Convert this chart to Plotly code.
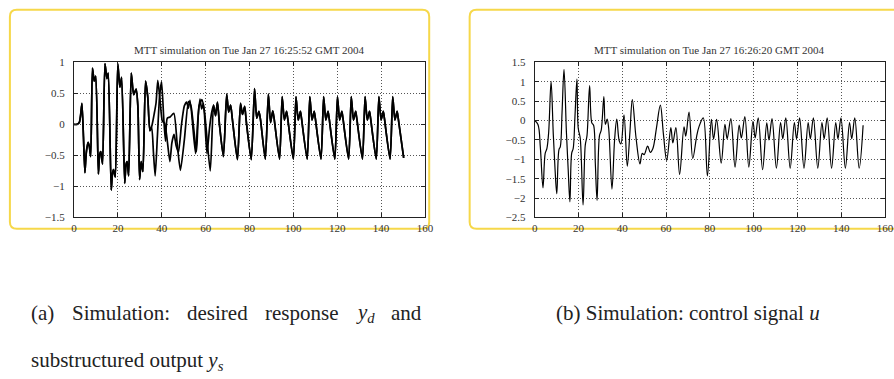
import plotly.graph_objects as go

W, H = 894, 379

# ---------------- data: panel (a) ----------------
# common start of y_d and y_s
t_start = [0, 1.3, 2.4, 3.0, 3.6, 4.3, 4.95, 5.6, 6.4, 7.0, 7.6, 8.4, 9.2, 9.9,
           11.1, 11.7, 12.2, 13.0, 14.1, 15.0, 15.6, 16.95, 17.5, 18.0, 18.8,
           19.95, 20.9, 21.7, 23.1, 23.7, 24.2, 24.9, 26.1, 27.2, 28.3, 29.1,
           29.9, 30.6, 31.4, 32.6, 33.6, 34.6]
y_start = [0, 0, 0.03, 0.15, 0.34, -0.2, -0.78, -0.45, -0.29, -0.36, -0.52, 0.91,
           0.70, 0.78, -0.80, -0.48, -0.44, -0.64, 0.98, 0.74, 0.83, -1.06, -0.80,
           -0.73, -0.85, 0.98, 0.60, 0.76, -0.95, -0.65, -0.60, -0.83, 0.83, 0.48,
           0.57, 0.30, -0.89, -0.60, -0.76, 0.70, 0.45, -0.10]

# diverging middle part
t_d_mid = [35.5, 36.6, 37.4, 38.2, 39.2, 40.3, 41.3, 42.3, 43.7, 44.6, 45.6, 46.6,
           47.6, 49.0, 50.3, 51.4, 52.1, 52.9, 55.4, 56.4, 57.4, 58.2, 59.0, 60.6,
           61.8, 62.8]
y_d_mid = [-0.02, 0.18, 0.35, 0.71, 0.40, 0.05, 0.02, -0.20, -0.60, -0.30, -0.16,
           -0.35, -0.45, 0.00, 0.30, 0.36, 0.26, 0.39, -0.47, 0.05, 0.41, 0.25,
           0.34, -0.47, -0.05, 0.20]
t_s_mid = [35.4, 36.2, 37.0, 38.0, 39.0, 39.9, 40.9, 41.7, 42.5, 43.8, 45.5, 47.0,
           48.5, 50.3, 52.2, 53.3, 55.8, 57.0, 58.3, 59.5, 62.1]
y_s_mid = [-0.05, -0.45, -0.83, -0.20, 0.45, 0.69, 0.10, -0.27, 0.10, 0.12, 0.18,
           -0.30, -0.74, -0.25, 0.37, 0.30, -0.44, 0.30, 0.40, 0.20, -0.75]

# common tail (settled periodic response)
t_tail = [63.6, 64.5, 65.4, 66.3, 68.1,
          69.6, 70.5, 71.4, 72.2, 74.5,
          75.9, 76.8, 77.8, 78.5, 80.8,
          82.3, 83.3, 84.3, 85.0, 87.2,
          88.6, 89.6, 90.6, 91.2, 93.7,
          94.9, 95.9, 96.9, 97.4, 100.0,
          101.2, 102.2, 103.2, 103.7, 106.3,
          107.5, 108.5, 109.5, 110.0, 112.6,
          113.8, 114.8, 115.8, 116.3, 118.9,
          120.1, 121.1, 122.1, 122.6, 125.2,
          126.4, 127.4, 128.4, 128.9, 131.5,
          132.7, 133.7, 134.7, 135.2, 137.8,
          139.0, 140.0, 141.0, 141.5, 144.1,
          145.3, 146.3, 147.3, 147.8, 150.3]
y_tail = [0.31, 0.14, 0.36, 0.00, -0.52,
          0.49, 0.20, 0.31, 0.08, -0.57,
          0.34, 0.16, 0.29, 0.06, -0.57,
          0.58, 0.10, 0.21, 0.08, -0.56,
          0.49, 0.03, 0.22, 0.10, -0.56,
          0.45, 0.07, 0.21, 0.10, -0.56,
          0.45, 0.07, 0.21, 0.10, -0.56,
          0.45, 0.07, 0.21, 0.10, -0.56,
          0.45, 0.07, 0.21, 0.10, -0.56,
          0.45, 0.07, 0.21, 0.10, -0.56,
          0.45, 0.07, 0.21, 0.10, -0.56,
          0.45, 0.07, 0.21, 0.10, -0.56,
          0.45, 0.07, 0.21, 0.10, -0.56,
          0.45, 0.07, 0.21, 0.10, -0.54]

# ---------------- data: panel (b) control signal u ----------------
t_u = [0, 1.5, 2.6, 3.8, 4.8, 5.6, 6.4, 7.5, 8.5, 9.3, 10.1, 11.1, 11.7, 12.5,
       13.4, 14.5, 15.3, 16.1, 16.9, 17.6, 18.4, 19.3, 19.9, 20.8, 22.1, 23.1,
       23.9, 25.1, 26.1, 26.9, 27.7, 28.5, 29.6, 30.4, 31.6, 32.3, 33.1, 33.8,
       35.3, 36.5, 37.5, 38.6, 39.4, 40.8, 42.3, 43.5, 44.6, 46.3, 48.1, 49.1,
       50.0, 51.6, 52.8, 54.0, 55.6, 57.4, 58.8, 60.3, 62.2, 63.1, 64.5, 66.2,
       68.2, 69.0, 70.5, 72.2, 74.0, 75.1, 77.0,
       78.9, 80.7, 81.7, 83.1,
       85.2, 86.9, 87.9, 89.6,
       91.5, 93.4, 94.4, 96.0,
       97.8, 99.7, 100.7, 102.1,
       104.1, 106.0, 107.0, 108.4,
       110.4, 112.3, 113.3, 114.7,
       116.7, 118.6, 119.6, 121.0,
       123.0, 124.9, 125.9, 127.3,
       129.3, 131.2, 132.2, 133.6,
       135.6, 137.5, 138.5, 139.9,
       141.9, 143.8, 144.8, 146.2,
       148.2, 150.0]
u = [0, -0.10, -0.70, -1.74, -0.85, -0.72, -0.30, 1.01, -0.35, -1.25, -1.89, -0.75,
     -0.68, 0.20, 1.32, -0.30, -1.25, -2.10, -0.85, -0.72, 0.10, 1.07, -0.20, -0.45,
     -2.18, -0.64, -0.39, 0.90, -0.06, -0.12, -1.10, -2.06, -0.39, -0.25, 0.62, -0.10,
     0.04, -0.20, -1.77, -0.50, 0.04, -0.52, -0.60, 0.15, -1.18, -0.30, 0.54, -0.45,
     -1.12, -0.85, -0.88, -0.66, -0.82, -0.72, -0.20, 0.40, -0.35, -1.03, -0.18, -0.58,
     -0.18, -1.39, -0.16, -0.40, 0.22, -0.98, -0.40, -0.15, 0.07,
     -1.43, 0.03, -0.48, 0.03,
     -1.10, -0.10, -0.47, 0.05,
     -1.20, -0.12, -0.45, 0.10,
     -1.20, -0.02, -0.45, 0.07,
     -1.27, -0.06, -0.50, 0.05,
     -1.23, -0.05, -0.47, 0.07,
     -1.23, -0.05, -0.47, 0.07,
     -1.23, -0.05, -0.47, 0.07,
     -1.23, -0.05, -0.47, 0.07,
     -1.23, -0.05, -0.47, 0.07,
     -1.23, -0.05, -0.47, 0.07,
     -1.23, -0.12]

# tick values / labels
x_ticks = [0, 20, 40, 60, 80, 100, 120, 140, 160]
title_a = "MTT simulation on Tue Jan 27 16:25:52 GMT 2004"
title_b = "MTT simulation on Tue Jan 27 16:26:20 GMT 2004"

# ---------------- figure ----------------
t_d = t_start + t_d_mid + t_tail
y_d = y_start + y_d_mid + y_tail
t_s = t_start + t_s_mid + t_tail
y_s = y_start + y_s_mid + y_tail

fig = go.Figure()
fig.add_trace(go.Scatter(x=t_d, y=y_d, mode="lines", name="y_d",
                         line=dict(color="black", width=1.7, shape="spline", smoothing=0.6),
                         xaxis="x", yaxis="y"))
fig.add_trace(go.Scatter(x=t_s, y=y_s, mode="lines", name="y_s",
                         line=dict(color="black", width=1.7, shape="spline", smoothing=0.6),
                         xaxis="x", yaxis="y"))
fig.add_trace(go.Scatter(x=t_u, y=u, mode="lines", name="u",
                         line=dict(color="black", width=1.2, shape="spline", smoothing=1.0),
                         xaxis="x2", yaxis="y2"))

SERIF = "Liberation Serif"


def px(x):
    return x / W


def py(y):
    return 1 - y / H


ydom = [py(218.3), py(58.3)]
common_axis = dict(
    showline=True, linecolor="#222", linewidth=1, mirror="ticks",
    ticks="inside", ticklen=4, tickcolor="#222",
    showgrid=True, gridcolor="#555", gridwidth=1, griddash="1px,2px",
    zeroline=False,
    tickfont=dict(family=SERIF, size=11, color="#333"),
)

fig.update_layout(
    width=W, height=H,
    margin=dict(l=0, r=0, t=0, b=0),
    paper_bgcolor="white", plot_bgcolor="white",
    showlegend=False,
    font=dict(family=SERIF),
    xaxis=dict(domain=[px(72), px(427.7)], range=[0, 160], tickvals=x_ticks,
               anchor="y", **common_axis),
    yaxis=dict(domain=ydom, range=[-1.5, 1], dtick=0.5, tick0=0, anchor="x",
               ticklabelstandoff=6, **common_axis),
    xaxis2=dict(domain=[px(538.9), 1.0], range=[0, 160], tickvals=x_ticks,
                anchor="y2", **common_axis),
    yaxis2=dict(domain=ydom, range=[-2.5, 1.5], dtick=0.5, tick0=0, anchor="x2",
                ticklabelstandoff=6, **common_axis),
)


def rounded_rect(x0, y0, x1, y1, r):
    pts = [
        f"M {px(x0 + r)} {py(y0)}",
        f"L {px(x1 - r)} {py(y0)}",
        f"Q {px(x1)} {py(y0)} {px(x1)} {py(y0 + r)}",
        f"L {px(x1)} {py(y1 - r)}",
        f"Q {px(x1)} {py(y1)} {px(x1 - r)} {py(y1)}",
        f"L {px(x0 + r)} {py(y1)}",
        f"Q {px(x0)} {py(y1)} {px(x0)} {py(y1 - r)}",
        f"L {px(x0)} {py(y0 + r)}",
        f"Q {px(x0)} {py(y0)} {px(x0 + r)} {py(y0)}",
        "Z",
    ]
    return " ".join(pts)


yellow = "#F6D84A"
fig.add_shape(type="path", xref="paper", yref="paper", layer="below",
              path=rounded_rect(7, 4, 432, 230, 7), line=dict(color=yellow, width=2))
fig.add_shape(type="path", xref="paper", yref="paper", layer="below",
              path=rounded_rect(473, 4, 910, 230, 7), line=dict(color=yellow, width=2))

# titles
fig.add_annotation(text=title_a, x=px(250), y=py(45), xref="paper", yref="paper",
                   showarrow=False, xanchor="center", yanchor="middle",
                   font=dict(family=SERIF, size=11, color="#333"))
fig.add_annotation(text=title_b, x=px(716), y=py(45), xref="paper", yref="paper",
                   showarrow=False, xanchor="center", yanchor="middle",
                   font=dict(family=SERIF, size=11, color="#333"))

# captions
cap_font = dict(family=SERIF, size=21, color="#222")
words_a = ["(a)", "Simulation:", "desired", "response", "<i>y</i><sub><i>d</i></sub>", "and"]
word_x = [26, 68, 184.7, 264, 356.2, 391.6]
for w, xw in zip(words_a, word_x):
    fig.add_annotation(text=w, x=px(xw), y=py(317), xref="paper", yref="paper",
                       showarrow=False, xanchor="left", yanchor="middle", font=cap_font)
fig.add_annotation(text="substructured output <i>y</i><sub><i>s</i></sub>",
                   x=px(26), y=py(367), xref="paper", yref="paper",
                   showarrow=False, xanchor="left", yanchor="middle", font=cap_font)
fig.add_annotation(text="(b) Simulation: control signal <i>u</i>",
                   x=px(559), y=py(317), xref="paper", yref="paper",
                   showarrow=False, xanchor="left", yanchor="middle", font=cap_font)

fig.write_html("out.html")
